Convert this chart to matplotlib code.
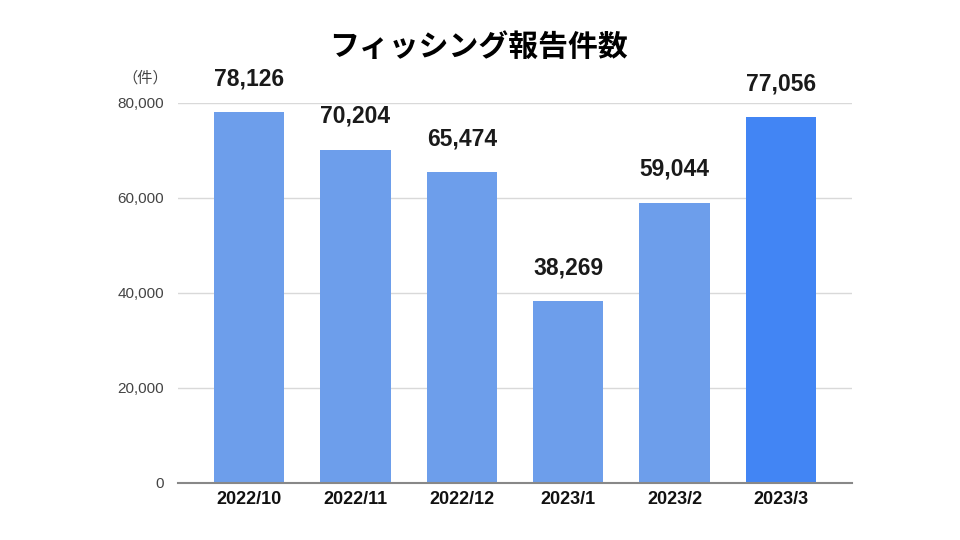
"""Bar chart of monthly phishing report counts."""

import matplotlib

matplotlib.use("Agg")

import matplotlib.pyplot as plt

plt.rcParams["font.family"] = ["Liberation Sans", "Noto Sans CJK JP", "DejaVu Sans"]

months = ["2022/10", "2022/11", "2022/12", "2023/1", "2023/2", "2023/3"]
reports = [78126, 70204, 65474, 38269, 59044, 77056]
bar_colors = ["#6d9eeb", "#6d9eeb", "#6d9eeb", "#6d9eeb", "#6d9eeb", "#4285f4"]
y_ticks = [0, 20000, 40000, 60000, 80000]

fig = plt.figure(figsize=(9.6, 5.4), dpi=100)
ax = fig.add_axes([0.1854, 0.1056, 0.7021, 0.7037])

x = range(len(months))
ax.bar(x, reports, width=0.66, color=bar_colors, zorder=2)

for xi, val in zip(x, reports):
    ax.annotate(f"{val:,}", (xi, val), xytext=(0, 24), textcoords="offset points",
                ha="center", va="center", fontsize=16.5, fontweight="bold",
                color="#1a1a1a", annotation_clip=False)

ax.set_xlim(-0.668, 5.668)
ax.set_ylim(0, 80000)
ax.set_xticks(list(x))
ax.set_xticklabels(months, fontsize=13, fontweight="bold", color="#111111")
ax.set_yticks(y_ticks)
ax.set_yticklabels([f"{t:,}" for t in y_ticks], fontsize=11, color="#444444")
ax.tick_params(axis="both", length=0)
ax.tick_params(axis="x", pad=6)
ax.tick_params(axis="y", pad=10)

ax.grid(axis="y", color="#d9d9d9", linewidth=1, zorder=0)
for side in ("top", "right", "left"):
    ax.spines[side].set_visible(False)
ax.spines["bottom"].set_color("#888888")
ax.spines["bottom"].set_linewidth(1.5)
ax.spines["bottom"].set_zorder(3)

fig.text(0.151, 0.855, "（件）", ha="center", va="center", fontsize=11,
         color="#444444", family=["Noto Sans CJK JP", "DejaVu Sans"])
fig.text(0.498, 0.913, "フィッシング報告件数", ha="center", va="center",
         fontsize=21.5, fontweight="bold", color="#000000",
         family=["Noto Sans CJK JP", "DejaVu Sans"])

fig.savefig("out.png", dpi=100)
